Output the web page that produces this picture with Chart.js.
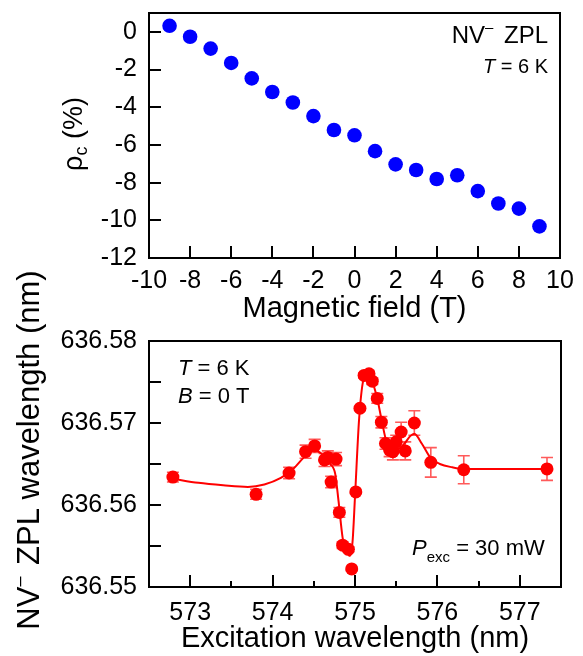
<!DOCTYPE html>
<html><head><meta charset="utf-8">
<script src="https://cdn.jsdelivr.net/npm/chart.js@4.4.0/dist/chart.umd.min.js"></script>
<style>
html,body{margin:0;padding:0;background:#fff;width:583px;height:656px;overflow:hidden;}
canvas{position:absolute;left:0;top:0;}
</style></head><body>
<canvas id="c1" width="583" height="656"></canvas>
<canvas id="c2" width="583" height="656"></canvas>
<script>
// ---------- data: top panel ----------
const fieldT = [-9,-8,-7,-6,-5,-4,-3,-2,-1,0,1,2,3,4,5,6,7,8,9];
const rhoC   = [0.32,-0.26,-0.89,-1.65,-2.47,-3.19,-3.75,-4.47,-5.21,-5.49,-6.33,-7.03,-7.33,-7.81,-7.61,-8.45,-9.11,-9.38,-10.32];
const fieldRange = [-10, 10], fieldStep = 2;
const rhoRange = [-12, 1], rhoStep = 2;

// ---------- data: bottom panel ----------
const excWl  = [572.79,573.80,574.20,574.40,574.51,574.63,574.67,574.71,574.77,574.81,574.85,574.92,574.96,575.01,575.06,575.11,575.17,575.21,575.27,575.32,575.37,575.42,575.46,575.50,575.56,575.61,575.72,575.92,576.32,577.33];
const zplWl  = [636.5634,636.5613,636.5639,636.5665,636.5672,636.5655,636.5658,636.5628,636.5656,636.5591,636.5551,636.5546,636.5522,636.5616,636.5718,636.5758,636.5760,636.5751,636.5730,636.5701,636.5675,636.5667,636.5665,636.5677,636.5689,636.5666,636.5700,636.5652,636.5643,636.5644];
const zplErr = [0.0006,0.0006,0.0007,0.0008,0.0008,0.0008,0.0008,0.0007,0.0008,0.0006,0.0004,0.0003,0.0002,0.0002,0.0002,0.0003,0.0003,0.0004,0.0006,0.0007,0.0007,0.0008,0.0010,0.0008,0.0012,0.0011,0.0015,0.0018,0.0017,0.0014];
const fitWl  = [572.79,573.1,573.4,573.7,573.9,574.1,574.25,574.4,574.5,574.6,574.7,574.76,574.8,574.85,574.9,574.94,574.97,575.0,575.05,575.1,575.15,575.2,575.27,575.33,575.38,575.45,575.52,575.6,575.67,575.72,575.81,575.92,576.03,576.18,576.32,576.6,577.33];
const fitZpl = [636.5632,636.5627,636.5624,636.5622,636.5625,636.5633,636.5644,636.5660,636.5667,636.5662,636.5650,636.5638,636.5605,636.5560,636.5543,636.5538,636.5555,636.5610,636.5705,636.5752,636.5760,636.5753,636.5730,636.5700,636.5678,636.5667,636.5668,636.5675,636.5684,636.5687,636.5675,636.5657,636.5650,636.5646,636.5644,636.5644,636.5644];
const excRange = [572.5, 577.5], excStep = 0.5;
const zplRange = [636.55, 636.58], zplStep = 0.005;

const F = '"Liberation Sans", Arial, Helvetica, sans-serif';

function rich(ctx, parts, x, y, align, rot) {
  ctx.save();
  ctx.translate(x, y);
  if (rot) ctx.rotate(rot);
  ctx.fillStyle = '#000';
  ctx.textBaseline = 'alphabetic';
  let w = 0;
  parts.forEach(p => {
    ctx.font = (p.i ? 'italic ' : '') + p.s + 'px ' + F;
    p.w = ctx.measureText(p.t).width;
    w += p.w + (p.g || 0);
  });
  let cx = align === 'left' ? 0 : (align === 'right' ? -w : -w / 2);
  parts.forEach(p => {
    ctx.font = (p.i ? 'italic ' : '') + p.s + 'px ' + F;
    ctx.textAlign = 'left';
    ctx.fillText(p.t, cx, p.dy || 0);
    cx += p.w + (p.g || 0);
  });
  ctx.restore();
}

function framePlugin(id, xMajor, drawTexts) {
  return {
    id: id,
    afterDatasetsDraw(chart) {
      const {ctx, chartArea: a, scales} = chart;
      ctx.save();
      ctx.strokeStyle = '#000';
      ctx.lineWidth = 2;
      scales.x.ticks.forEach(t => {
        const px = Math.round(scales.x.getPixelForValue(t.value));
        if (px <= a.left + 2 || px >= a.right - 2) return;
        const len = xMajor(t.value) ? 12 : 6;
        ctx.beginPath(); ctx.moveTo(px, a.bottom); ctx.lineTo(px, a.bottom - len); ctx.stroke();
      });
      scales.y.ticks.forEach(t => {
        const py = Math.round(scales.y.getPixelForValue(t.value));
        if (py <= a.top + 2 || py >= a.bottom - 2) return;
        ctx.beginPath(); ctx.moveTo(a.left, py); ctx.lineTo(a.left + 12, py); ctx.stroke();
      });
      ctx.strokeRect(a.left, a.top, a.right - a.left, a.bottom - a.top);
      ctx.restore();
      drawTexts(ctx);
    }
  };
}

const errPlugin = {
  id: 'errbars',
  beforeDatasetsDraw(chart) {
    const {ctx, scales} = chart;
    ctx.save();
    ctx.strokeStyle = '#ff5a5a';
    ctx.lineWidth = 1.6;
    excWl.forEach((x, i) => {
      const px = scales.x.getPixelForValue(x);
      const y1 = scales.y.getPixelForValue(zplWl[i] + zplErr[i]);
      const y2 = scales.y.getPixelForValue(zplWl[i] - zplErr[i]);
      ctx.beginPath();
      ctx.moveTo(px, y1); ctx.lineTo(px, y2);
      ctx.moveTo(px - 6, y1); ctx.lineTo(px + 6, y1);
      ctx.moveTo(px - 6, y2); ctx.lineTo(px + 6, y2);
      ctx.stroke();
    });
    ctx.restore();
  }
};

const tickFont = {family: F, size: 25};
const titleFont = {family: F, size: 29, lineHeight: 1};
const isInt = v => Math.abs(v - Math.round(v)) < 1e-6;
const isHundredth = v => Math.abs(v * 100 - Math.round(v * 100)) < 1e-5;
const fitX = h => s => { s.height = h; s.paddingLeft = 0; s.paddingRight = 0; };
const fitY = w => s => { s.width = w; s.paddingTop = 0; s.paddingBottom = 0; };

// ---------- top chart ----------
new Chart(document.getElementById('c1'), {
  type: 'scatter',
  data: {
    datasets: [{
      data: fieldT.map((x, i) => ({x: x, y: rhoC[i]})),
      backgroundColor: '#0000ff', borderColor: '#0000ff',
      pointRadius: 7.3, pointHoverRadius: 7.3, borderWidth: 0
    }]
  },
  options: {
    responsive: false, animation: false, devicePixelRatio: 1,
    layout: {padding: {top: 13, right: 23, left: 0, bottom: 331}},
    plugins: {legend: {display: false}, tooltip: {enabled: false}},
    scales: {
      x: {
        type: 'linear', min: fieldRange[0], max: fieldRange[1],
        ticks: {stepSize: fieldStep, padding: 8, font: tickFont, color: '#000', maxRotation: 0, autoSkip: false},
        grid: {display: false, drawTicks: false}, border: {display: false},
        title: {display: true, text: 'Magnetic field (T)', font: titleFont, color: '#000', padding: {top: 0, bottom: 2}},
        afterFit: fitX(67)
      },
      y: {
        type: 'linear', min: rhoRange[0], max: rhoRange[1],
        ticks: {stepSize: rhoStep, includeBounds: false, padding: 12, font: tickFont, color: '#000', autoSkip: false},
        grid: {display: false, drawTicks: false}, border: {display: false},
        afterFit: fitY(149)
      }
    }
  },
  plugins: [framePlugin('frame1', v => true, ctx => {
    rich(ctx, [{t: 'NV', s: 24}, {t: '–', s: 15, dy: -11, g: 4}, {t: ' ZPL', s: 24}], 548, 43, 'right');
    rich(ctx, [{t: 'T', s: 20, i: true}, {t: ' = 6 K', s: 20}], 548, 73, 'right');
    rich(ctx, [{t: 'ρ', s: 27}, {t: 'c', s: 18, dy: 5}, {t: ' (%)', s: 27}], 82, 134, 'center', -Math.PI / 2);
  })]
});

// ---------- bottom chart ----------
new Chart(document.getElementById('c2'), {
  type: 'scatter',
  data: {
    datasets: [{
      data: excWl.map((x, i) => ({x: x, y: zplWl[i]})),
      backgroundColor: '#ff0000', borderColor: '#ff0000',
      pointRadius: 6.5, pointHoverRadius: 6.5, borderWidth: 0, order: 1
    }, {
      data: fitWl.map((x, i) => ({x: x, y: fitZpl[i]})),
      showLine: true, borderColor: '#ff0000', borderWidth: 2,
      pointRadius: 0, cubicInterpolationMode: 'monotone', fill: false, order: 2
    }]
  },
  options: {
    responsive: false, animation: false, devicePixelRatio: 1,
    layout: {padding: {top: 341, right: 22, left: 0, bottom: 0}},
    plugins: {legend: {display: false}, tooltip: {enabled: false}},
    scales: {
      x: {
        type: 'linear', min: excRange[0], max: excRange[1],
        ticks: {stepSize: excStep, padding: 11, font: tickFont, color: '#000', maxRotation: 0, autoSkip: false,
          callback: v => isInt(v) ? String(Math.round(v)) : ''},
        grid: {display: false, drawTicks: false}, border: {display: false},
        title: {display: true, text: 'Excitation wavelength (nm)', font: titleFont, color: '#000', padding: {top: 0, bottom: 3}},
        afterFit: fitX(69)
      },
      y: {
        type: 'linear', min: zplRange[0], max: zplRange[1],
        ticks: {stepSize: zplStep, padding: 12, font: tickFont, color: '#000', autoSkip: false,
          callback: v => isHundredth(v) ? v.toFixed(2) : ''},
        grid: {display: false, drawTicks: false}, border: {display: false},
        afterFit: fitY(149)
      }
    }
  },
  plugins: [errPlugin, framePlugin('frame2', isInt, ctx => {
    rich(ctx, [{t: 'T', s: 22, i: true}, {t: ' = 6 K', s: 22}], 178, 375, 'left');
    rich(ctx, [{t: 'B', s: 22, i: true}, {t: ' = 0 T', s: 22}], 178, 403, 'left');
    rich(ctx, [{t: 'P', s: 22, i: true}, {t: 'exc', s: 15, dy: 7}, {t: ' = 30 mW', s: 22}], 412, 555, 'left');
    rich(ctx, [{t: 'NV', s: 31}, {t: '–', s: 18, dy: -14, g: 3}, {t: ' ZPL wavelength (nm)', s: 31}], 39, 450, 'center', -Math.PI / 2);
  })]
});
</script>
</body></html>
